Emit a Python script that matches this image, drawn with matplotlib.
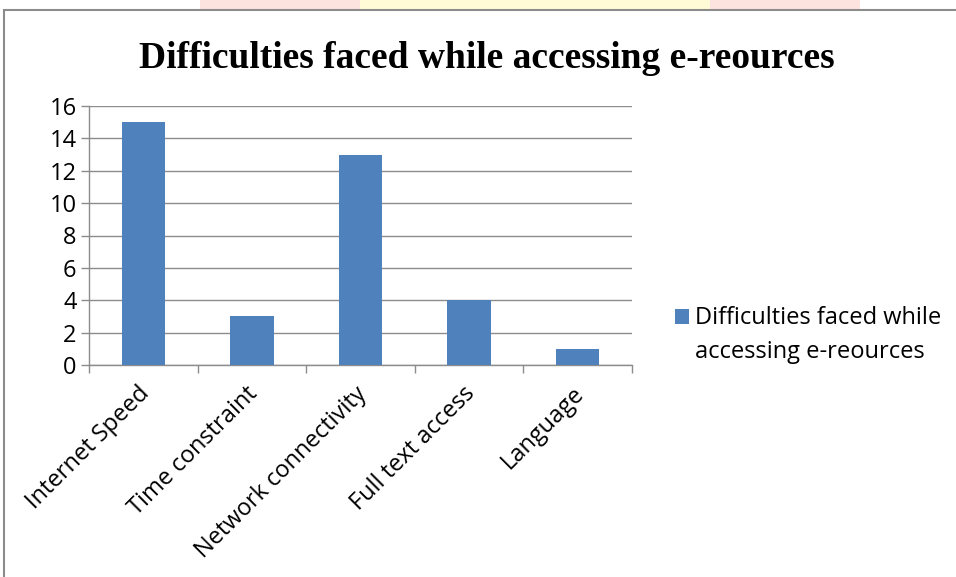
import matplotlib
matplotlib.use("Agg")
import matplotlib.pyplot as plt
import matplotlib.transforms as mtransforms
from matplotlib.patches import Rectangle, Patch
from matplotlib.legend_handler import HandlerPatch

categories = ["Internet Speed", "Time constraint", "Network connectivity", "Full text access", "Language"]
values = [15, 3, 13, 4, 1]
series_name = "Difficulties faced while\naccessing e-reources"
title = "Difficulties faced while accessing e-reources"
yticks = [0, 2, 4, 6, 8, 10, 12, 14, 16]

W, H = 956, 577
fig = plt.figure(figsize=(W/100, H/100), dpi=100)
fig.patch.set_facecolor("white")

# faint page background strip above the chart (cropped screenshot)
for x0, x1, c in [(200, 360, "#fde3df"), (360, 710, "#fffbd6"), (710, 860, "#fde3df")]:
    fig.patches.append(Rectangle((x0/W, 1 - 10/H), (x1 - x0)/W, 10/H, transform=fig.transFigure,
                                 facecolor=c, edgecolor="none", zorder=-5))

# outer chart border
fig.patches.append(Rectangle((4/W, -0.1), 2.0, 1 - 10/H + 0.1, transform=fig.transFigure,
                             fill=False, edgecolor="#8c8c8c", linewidth=1.5, zorder=-4))

ax = fig.add_axes([89/W, 1 - 365/H, (632 - 89)/W, (365 - 106)/H])
ax.set_facecolor("none")
bar_color = "#4f81bd"
x = list(range(len(categories)))
ax.bar(x, values, width=0.4, color=bar_color, zorder=3)

ax.set_xlim(-0.5, len(categories) - 0.5)
ax.set_ylim(0, 16)
ax.set_yticks(yticks)
ax.set_yticklabels([str(v) for v in yticks], fontfamily="Open Sans", fontsize=17)
ax.yaxis.grid(True, color="#8c8c8c", linewidth=1, zorder=0)
ax.set_axisbelow(True)

ax.set_xticks(x)
ax.set_xticks([i - 0.5 for i in range(len(categories) + 1)], minor=True)
ax.tick_params(axis="x", which="major", length=0, pad=10)
ax.tick_params(axis="x", which="minor", length=6, color="#8c8c8c", width=1)
ax.tick_params(axis="y", length=6, color="#8c8c8c", width=1, pad=3)
ax.set_xticklabels(categories, rotation=45, ha="right", rotation_mode="anchor",
                   fontfamily="Open Sans", fontsize=17)
offset = mtransforms.ScaledTranslation(-6/100, -3/100, fig.dpi_scale_trans)
for tick in ax.xaxis.get_major_ticks():
    tick.label1.set_transform(tick.label1.get_transform() + offset)

for s in ["top", "right"]:
    ax.spines[s].set_visible(False)
for s in ["left", "bottom"]:
    ax.spines[s].set_color("#8c8c8c")
    ax.spines[s].set_linewidth(1)

fig.text(487/W, 1 - 58/H, title, ha="center", va="center",
         fontfamily="Liberation Serif", fontweight="bold", fontsize=27)


def top_square(legend, orig_handle, xdescent, ydescent, width, height, fontsize):
    return Rectangle((-xdescent, -ydescent + 13.5), width, height)


handle = Patch(facecolor=bar_color, edgecolor="none")
leg = fig.legend([handle], [series_name], loc="center left",
                 bbox_to_anchor=(654/W, 1 - 335/H), frameon=False,
                 prop={"family": "Open Sans", "size": 17},
                 handlelength=0.6, handleheight=0.6, handletextpad=0.25,
                 handler_map={Patch: HandlerPatch(patch_func=top_square)})
for t in leg.get_texts():
    t.set_linespacing(1.5)

fig.savefig("out.png", dpi=100)
